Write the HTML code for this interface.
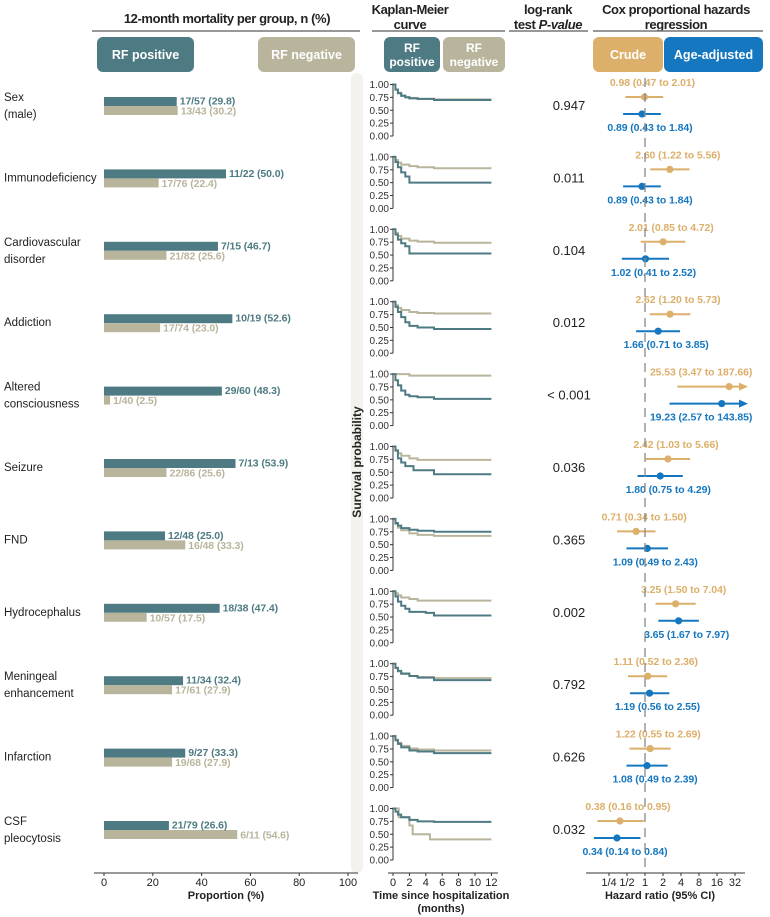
<!DOCTYPE html>
<html><head><meta charset="utf-8">
<style>
body{margin:0;background:#fff;}
svg{display:block;font-family:"Liberation Sans",sans-serif;}
.hd{font-weight:bold;font-size:13px;fill:#222;text-anchor:middle;letter-spacing:-0.4px}
.lab{font-size:11.5px;fill:#222}
.tk{font-size:10px;fill:#333}
.bl{font-size:10.5px;font-weight:bold;letter-spacing:-0.1px}
</style></head><body>
<svg id="fig" width="770" height="917" viewBox="0 0 770 917" xmlns="http://www.w3.org/2000/svg">
<rect x="0" y="0" width="770" height="917" fill="#fff"/>
<rect x="351" y="73" width="12" height="800" rx="6" fill="#f4f2ec"/>
<g>
<text class="hd" x="227" y="23">12-month mortality per group, n (%)</text>
<line x1="92" y1="31" x2="360" y2="31" stroke="#777" stroke-width="1.5"/>
<text class="hd" x="410" y="14">Kaplan-Meier</text>
<text class="hd" x="410" y="29">curve</text>
<line x1="372" y1="31" x2="505" y2="31" stroke="#777" stroke-width="1.5"/>
<text class="hd" x="548" y="14">log-rank</text>
<text class="hd" x="548" y="29">test <tspan font-style="italic">P-value</tspan></text>
<line x1="509" y1="31" x2="588" y2="31" stroke="#777" stroke-width="1.5"/>
<text class="hd" x="676" y="14">Cox proportional hazards</text>
<text class="hd" x="676" y="29">regression</text>
<line x1="593" y1="31" x2="763" y2="31" stroke="#777" stroke-width="1.5"/>
</g>
<g>
<rect x="97" y="37" width="97" height="35" rx="6" fill="#4e7b83"/>
<text x="145.5" y="59" fill="#fff" font-size="12.5" font-weight="bold" text-anchor="middle">RF positive</text>
<rect x="258" y="37" width="97" height="35" rx="6" fill="#b9b59c"/>
<text x="306.5" y="59" fill="#fff" font-size="12.5" font-weight="bold" text-anchor="middle">RF negative</text>
<rect x="384" y="37" width="56" height="35" rx="6" fill="#4e7b83"/>
<text x="412" y="52" fill="#fff" font-size="12" font-weight="bold" text-anchor="middle">RF</text>
<text x="412" y="66" fill="#fff" font-size="12" font-weight="bold" text-anchor="middle">positive</text>
<rect x="443" y="37" width="62" height="35" rx="6" fill="#b9b59c"/>
<text x="474" y="52" fill="#fff" font-size="12" font-weight="bold" text-anchor="middle">RF</text>
<text x="474" y="66" fill="#fff" font-size="12" font-weight="bold" text-anchor="middle">negative</text>
<rect x="593" y="37" width="70" height="35" rx="6" fill="#dcaf6a"/>
<text x="628" y="59" fill="#fff" font-size="12.5" font-weight="bold" text-anchor="middle">Crude</text>
<rect x="664" y="37" width="99" height="35" rx="6" fill="#1577c0"/>
<text x="713.5" y="59" fill="#fff" font-size="12.5" font-weight="bold" text-anchor="middle">Age-adjusted</text>
</g>
<g id="rows"></g>
<g id="axes"></g>
</svg>
<script>
const categories=[["Sex","(male)"],["Immunodeficiency"],["Cardiovascular","disorder"],["Addiction"],["Altered","consciousness"],["Seizure"],["FND"],["Hydrocephalus"],["Meningeal","enhancement"],["Infarction"],["CSF","pleocytosis"]];
const posPct=[29.8,50.0,46.7,52.6,48.3,53.9,25.0,47.4,32.4,33.3,26.6];
const negPct=[30.2,22.4,25.6,23.0,2.5,25.6,33.3,17.5,27.9,27.9,54.6];
const posLabel=["17/57 (29.8)","11/22 (50.0)","7/15 (46.7)","10/19 (52.6)","29/60 (48.3)","7/13 (53.9)","12/48 (25.0)","18/38 (47.4)","11/34 (32.4)","9/27 (33.3)","21/79 (26.6)"];
const negLabel=["13/43 (30.2)","17/76 (22.4)","21/82 (25.6)","17/74 (23.0)","1/40 (2.5)","22/86 (25.6)","16/48 (33.3)","10/57 (17.5)","17/61 (27.9)","19/68 (27.9)","6/11 (54.6)"];
const pValues=["0.947","0.011","0.104","0.012","< 0.001","0.036","0.365","0.002","0.792","0.626","0.032"];
const crudeHR=[0.98,2.60,2.01,2.62,25.53,2.42,0.71,3.25,1.11,1.22,0.38];
const crudeLo=[0.47,1.22,0.85,1.20,3.47,1.03,0.34,1.50,0.52,0.55,0.16];
const crudeHi=[2.01,5.56,4.72,5.73,187.66,5.66,1.50,7.04,2.36,2.69,0.95];
const adjHR=[0.89,0.89,1.02,1.66,19.23,1.80,1.09,3.65,1.19,1.08,0.34];
const adjLo=[0.43,0.43,0.41,0.71,2.57,0.75,0.49,1.67,0.56,0.49,0.14];
const adjHi=[1.84,1.84,2.52,3.85,143.85,4.29,2.43,7.97,2.55,2.39,0.84];
// KM step curves: times (months) and survival
const kmPosT=[[0,0.3,0.6,1,1.5,2,3,5,12],[0,0.3,0.6,1,1.5,2,12],[0,0.3,0.6,1,1.5,2,12],[0,0.3,0.6,1,1.5,2,3,5,12],[0,0.3,0.6,1,1.5,2,3,5,12],[0,0.3,0.6,1,1.5,2.5,5,12],[0,0.3,0.6,1,2,3,5,12],[0,0.3,0.6,1,1.5,2,4,5,12],[0,0.3,0.6,1,2,3,5,12],[0,0.3,0.6,1,2,3,5,12],[0,0.3,0.6,1,2,3,5,12]];
const kmPosS=[[1,0.9,0.83,0.78,0.75,0.73,0.72,0.70,0.70],[1,0.9,0.8,0.7,0.62,0.5,0.5],[1,0.9,0.8,0.73,0.67,0.53,0.53],[1,0.9,0.8,0.7,0.6,0.53,0.5,0.47,0.47],[1,0.88,0.78,0.68,0.6,0.57,0.55,0.52,0.52],[1,0.92,0.77,0.69,0.62,0.54,0.46,0.46],[1,0.92,0.87,0.82,0.79,0.77,0.75,0.75],[1,0.9,0.8,0.72,0.66,0.6,0.58,0.53,0.53],[1,0.92,0.86,0.81,0.76,0.73,0.68,0.68],[1,0.92,0.85,0.78,0.72,0.7,0.67,0.67],[1,0.94,0.88,0.83,0.78,0.75,0.74,0.74]];
const kmNegT=[[0,0.3,0.6,1,1.5,2,3,5,12],[0,0.3,0.6,1,2,3,5,12],[0,0.3,0.6,1,2,3,5,12],[0,0.3,0.6,1,2,3,5,12],[0,2,12],[0,0.3,0.6,1,2,3,12],[0,0.3,0.6,1,2,3,5,12],[0,0.3,0.6,1,2,3,12],[0,0.3,0.6,1,2,3,5,12],[0,0.3,0.6,1,2,3,5,12],[0,0.7,2,2.4,4.5,12]];
const kmNegS=[[1,0.9,0.84,0.79,0.76,0.74,0.72,0.71,0.71],[1,0.94,0.89,0.85,0.82,0.8,0.78,0.78],[1,0.93,0.87,0.82,0.78,0.76,0.74,0.74],[1,0.93,0.88,0.84,0.8,0.78,0.77,0.77],[1,0.97,0.97],[1,0.93,0.87,0.82,0.77,0.74,0.74],[1,0.9,0.83,0.78,0.72,0.69,0.67,0.67],[1,0.96,0.92,0.88,0.85,0.82,0.82],[1,0.92,0.85,0.8,0.76,0.74,0.72,0.72],[1,0.93,0.87,0.81,0.76,0.74,0.72,0.72],[1,0.83,0.67,0.5,0.4,0.4]];
const kmTicks=[1.00,0.75,0.50,0.25,0.00];
const kmTimeTicks=[0,2,4,6,8,10,12];
const barTicks=[0,20,40,60,80,100];
const hrTicks=[0.25,0.5,1,2,4,8,16,32];
const hrTickLabels=["1/4","1/2","1","2","4","8","16","32"];

const NS="http://www.w3.org/2000/svg";
const TEAL="#4e7b83",BEIGE="#b9b59c",ORANGE="#dcaf6a",BLUE="#1577c0";
const rowY=i=>105+i*72.4;
const xBar=p=>104+2.44*p;
const xKM=t=>393+t*8.2;
const yKM=(s,c)=>c+31-s*51.5;
const xHR=v=>645+18*Math.log2(v);
const HRMAX=748;
function mk(tag,attrs,parent,text){const e=document.createElementNS(NS,tag);for(const k in attrs)e.setAttribute(k,attrs[k]);if(text!==undefined)e.textContent=text;parent.appendChild(e);return e;}
const rows=document.getElementById('rows'),axes=document.getElementById('axes');

const ref=mk('line',{x1:645,y1:78,x2:645,y2:873,stroke:'#888','stroke-width':1.3,'stroke-dasharray':'9,6'},axes);



categories.forEach((cat,i)=>{
  const c=rowY(i);
  const g=mk('g',{},rows);
  
  
  if(cat.length===2){
    const t1=mk('text',{x:4,y:c-4,class:'lab'},g,cat[0]);
    
    
    mk('text',{x:4,y:c+13,class:'lab'},g,cat[1]);
  } else {
    const t1=mk('text',{x:4,y:c+4,class:'lab'},g,cat[0]);
    
    
  }
  const b1=mk('rect',{x:xBar(0),y:c-8,width:xBar(posPct[i])-xBar(0),height:9,fill:TEAL},g);
  
  
  const b2=mk('rect',{x:xBar(0),y:c+1,width:xBar(negPct[i])-xBar(0),height:9,fill:BEIGE},g);
  
  
  mk('text',{x:xBar(posPct[i])+3,y:c-0.5,class:'bl',fill:TEAL},g,posLabel[i]);
  mk('text',{x:xBar(negPct[i])+3,y:c+9.5,class:'bl',fill:BEIGE},g,negLabel[i]);
  const kc=c;
  mk('line',{x1:393,y1:yKM(1,kc)-1,x2:393,y2:yKM(0,kc),stroke:'#333','stroke-width':1},g);
  kmTicks.forEach(s=>{
    mk('line',{x1:390,y1:yKM(s,kc),x2:393,y2:yKM(s,kc),stroke:'#333','stroke-width':1},g);
    mk('text',{x:389,y:yKM(s,kc)+3.5,class:'tk','text-anchor':'end'},g,s.toFixed(2));
  });
  function step(T,S,col,name){
    let d='M'+xKM(T[0])+','+yKM(S[0],kc);
    for(let k=1;k<T.length;k++){d+=' H'+xKM(T[k])+' V'+yKM(S[k],kc);}
    const p=mk('path',{d:d,fill:'none',stroke:col,'stroke-width':2},g);
    
    
  }
  step(kmNegT[i],kmNegS[i],BEIGE,'km-curve-rf-negative');
  step(kmPosT[i],kmPosS[i],TEAL,'km-curve-rf-positive');
  const pv=mk('text',{x:569,y:c+5,'font-size':13,fill:'#222','text-anchor':'middle'},g,pValues[i]);
  
  
  function hr(est,lo,hi,y,ty,col,name){
    const x2=Math.min(xHR(hi),HRMAX);
    const l=mk('line',{x1:xHR(lo),y1:y,x2:hi>40?x2-6:x2,y2:y,stroke:col,'stroke-width':2},g);
    
    
    if(hi>40){mk('path',{d:`M${x2-9},${y-4} L${x2},${y} L${x2-9},${y+4} Z`,fill:col},g);}
    const pt=mk('circle',{cx:xHR(est),cy:y,r:3.6,fill:col},g);
    
    
    const f=v=>v.toFixed(2);
    const s=`${f(est)} (${f(lo)} to ${f(hi)})`;
    const w=s.length*5.9;
    let cx=xHR(est)+8;
    cx=Math.min(cx,766-w/2);
    mk('text',{x:cx,y:ty,class:'bl','font-size':11.5,fill:col,'text-anchor':'middle'},g,s);
  }
  hr(crudeHR[i],crudeLo[i],crudeHi[i],c-8,c-19,ORANGE,'hr-crude');
  hr(adjHR[i],adjLo[i],adjHi[i],c+9,c+26,BLUE,'hr-adjusted');
});
const A=873;
mk('line',{x1:94,y1:A,x2:358,y2:A,stroke:'#333'},axes);
barTicks.forEach(v=>{mk('line',{x1:xBar(v),y1:A,x2:xBar(v),y2:A+3,stroke:'#333'},axes);mk('text',{x:xBar(v),y:A+13,'font-size':11,fill:'#222','text-anchor':'middle'},axes,String(v));});
const bt=mk('text',{x:226,y:A+26,'font-size':11,'font-weight':'bold',fill:'#222','text-anchor':'middle'},axes,'Proportion (%)');


mk('line',{x1:388,y1:A,x2:498,y2:A,stroke:'#333'},axes);
kmTimeTicks.forEach(v=>{mk('line',{x1:xKM(v),y1:A,x2:xKM(v),y2:A+3,stroke:'#333'},axes);mk('text',{x:xKM(v),y:A+13,'font-size':11,fill:'#222','text-anchor':'middle'},axes,String(v));});
const kt=mk('text',{x:441,y:A+26,'font-size':11,'font-weight':'bold',fill:'#222','text-anchor':'middle'},axes,'Time since hospitalization');


mk('text',{x:441,y:A+39,'font-size':11,'font-weight':'bold',fill:'#222','text-anchor':'middle'},axes,'(months)');
const sp=mk('text',{x:0,y:0,'font-size':12,'font-weight':'bold',fill:'#222','text-anchor':'middle',transform:'translate(361,462) rotate(-90)'},axes,'Survival probability');


mk('line',{x1:586,y1:A,x2:745,y2:A,stroke:'#333'},axes);
hrTicks.forEach((v,k)=>{mk('line',{x1:xHR(v),y1:A,x2:xHR(v),y2:A+3,stroke:'#333'},axes);mk('text',{x:xHR(v),y:A+13,'font-size':11,fill:'#222','text-anchor':'middle'},axes,hrTickLabels[k]);});
const ht=mk('text',{x:660,y:A+26,'font-size':11,'font-weight':'bold',fill:'#222','text-anchor':'middle'},axes,'Hazard ratio (95% CI)');


</script>
</body></html>
